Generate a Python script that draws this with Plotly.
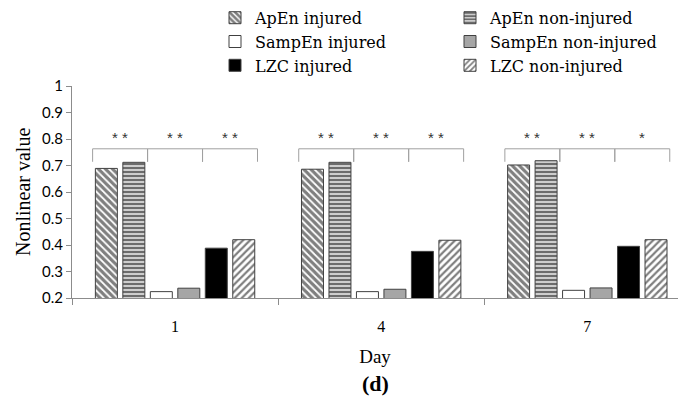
import plotly.graph_objects as go

# Nonlinear measures per recording day, injured vs non-injured groups
days = ["1", "4", "7"]
series_names = ["ApEn injured", "ApEn non-injured", "SampEn injured",
                "SampEn non-injured", "LZC injured", "LZC non-injured"]
apen_injured = [0.689, 0.686, 0.702]
apen_non_injured = [0.712, 0.712, 0.718]
sampen_injured = [0.224, 0.224, 0.229]
sampen_non_injured = [0.237, 0.233, 0.238]
lzc_injured = [0.388, 0.376, 0.395]
lzc_non_injured = [0.420, 0.418, 0.420]

# significance markers per day for (ApEn, SampEn, LZC) pairs
significance = [["**", "**", "**"], ["**", "**", "**"], ["**", "**", "*"]]

y_ticks = [0.2, 0.3, 0.4, 0.5, 0.6, 0.7, 0.8, 0.9, 1]

values = [apen_injured, apen_non_injured, sampen_injured,
          sampen_non_injured, lzc_injured, lzc_non_injured]

styles = [
    dict(color="white", pattern=dict(shape="\\", fgcolor="black", bgcolor="white",
                                     size=5, solidity=0.65)),
    dict(color="white", pattern=dict(shape="-", fgcolor="black", bgcolor="#d8d8d8",
                                     size=4, solidity=0.55)),
    dict(color="white"),
    dict(color="#a6a6a6"),
    dict(color="black"),
    dict(color="white", pattern=dict(shape="/", fgcolor="black", bgcolor="white",
                                     size=5, solidity=0.45)),
]

serif = "Liberation Serif"

fig = go.Figure()
for i, (name, vals, st) in enumerate(zip(series_names, values, styles)):
    # injured series in the left legend column, non-injured in the right one
    fig.add_trace(go.Bar(
        x=days, y=vals, name=name,
        legend="legend" if i % 2 == 0 else "legend2",
        marker=dict(line=dict(color="#404040", width=1), **st),
    ))

# brackets with significance stars above each measure pair
n = len(series_names)
group_w = 1 - 0.2
slot = group_w / n
y_top, y_leg, y_star = 0.763, 0.714, 0.807
for di, day_sig in enumerate(significance):
    for pi, sig in enumerate(day_sig):
        x0 = di - group_w / 2 + pi * 2 * slot
        x1 = x0 + 2 * slot
        fig.add_shape(type="line", x0=x0, x1=x1, y0=y_top, y1=y_top,
                      xref="x", yref="y", line=dict(color="#a0a0a0", width=1))
        for xx in (x0, x1):
            fig.add_shape(type="line", x0=xx, x1=xx, y0=y_leg, y1=y_top,
                          xref="x", yref="y", line=dict(color="#a0a0a0", width=1))
        fig.add_annotation(x=(x0 + x1) / 2, y=y_star, xref="x", yref="y",
                           text=" ".join(sig), showarrow=False,
                           font=dict(family="Liberation Sans", size=15, color="#333333"))

# y axis title, set as a rotated label left of the tick labels
fig.add_annotation(x=-49 / 606, y=0.5, xref="paper", yref="paper",
                   xanchor="center", yanchor="middle", showarrow=False,
                   text="Nonlinear value", textangle=-90,
                   font=dict(family=serif, size=20, color="black"))

fig.add_annotation(x=0.5, y=-0.405, xref="paper", yref="paper",
                   text="<b>(d)</b>", showarrow=False, yanchor="middle",
                   font=dict(family=serif, size=22, color="black"))

legend_style = dict(orientation="v", xanchor="left", y=0.998, yanchor="top",
                    xref="container", yref="container",
                    font=dict(family="DejaVu Serif", size=16, color="black"),
                    traceorder="normal", itemclick=False,
                    bgcolor="rgba(0,0,0,0)")

fig.update_layout(
    width=678, height=403,
    margin=dict(l=72, r=0, t=86, b=105, autoexpand=False),
    paper_bgcolor="white", plot_bgcolor="white",
    barmode="group", bargap=0.2, bargroupgap=0.2,
    showlegend=True,
    legend=dict(x=215 / 678, **legend_style),
    legend2=dict(x=450 / 678, **legend_style),
    xaxis=dict(type="category", range=[-0.5, 2.44], showline=True,
               linecolor="#8c8c8c", linewidth=1, ticks="outside",
               tickson="boundaries", ticklen=6, tickcolor="#8c8c8c",
               showgrid=False, zeroline=False, ticklabelstandoff=14,
               tickfont=dict(family=serif, size=16, color="black"),
               title=dict(text="Day", standoff=15,
                          font=dict(family=serif, size=19, color="black"))),
    yaxis=dict(range=[0.2, 1], tickvals=y_ticks,
               ticktext=[f"{v:g}" for v in y_ticks],
               showline=True, linecolor="#8c8c8c", linewidth=1,
               ticks="outside", ticklen=5, tickcolor="#8c8c8c",
               showgrid=False, zeroline=False,
               tickfont=dict(family="Lato", size=15, color="black")),
)

fig.write_html("out.html")
